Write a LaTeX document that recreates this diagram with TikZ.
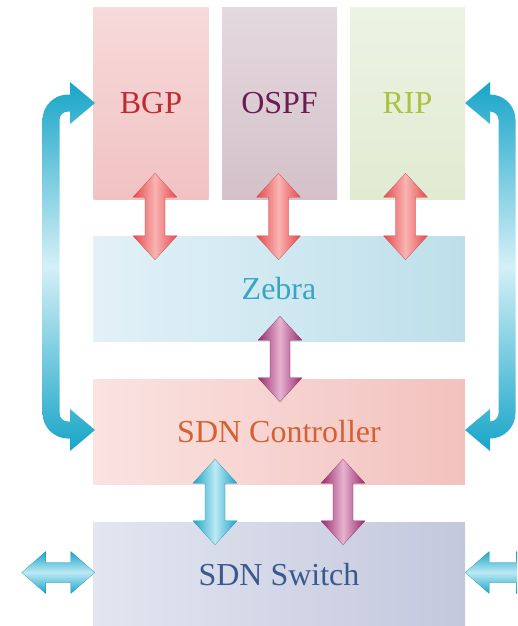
\documentclass[tikz,border=0pt]{standalone}
\usepackage{fontspec}
\newfontfamily\labelfont[Extension=.ttf,UprightFont=*-Regular]{LiberationSerif}
\usetikzlibrary{calc}

\definecolor{bgpfillA}{HTML}{F7DADA}
\definecolor{bgpfillB}{HTML}{F1C2C3}
\definecolor{ospffillA}{HTML}{E4D9DE}
\definecolor{ospffillB}{HTML}{D4C1C9}
\definecolor{ripfillA}{HTML}{EDF3E4}
\definecolor{ripfillB}{HTML}{E0EBD2}
\definecolor{zebfillA}{HTML}{E2F1F7}
\definecolor{zebfillB}{HTML}{BEDFEA}
\definecolor{ctlfillA}{HTML}{FAE3E1}
\definecolor{ctlfillB}{HTML}{F2C2BE}
\definecolor{swfillA}{HTML}{E3E5F0}
\definecolor{swfillB}{HTML}{C3C8DD}
\definecolor{bgptext}{HTML}{BF2A33}
\definecolor{ospftext}{HTML}{6A1C55}
\definecolor{riptext}{HTML}{AAC23C}
\definecolor{zebtext}{HTML}{36A6C4}
\definecolor{ctltext}{HTML}{D6602F}
\definecolor{swtext}{HTML}{3A5A8E}
\definecolor{arrred}{HTML}{E8484C}
\definecolor{arrredL}{HTML}{F8B4B2}
\definecolor{arrplum}{HTML}{9A2A6E}
\definecolor{arrplumL}{HTML}{E6B3CF}
\definecolor{arrcyan}{HTML}{18A5C8}
\definecolor{arrcyanL}{HTML}{BDE9F4}
\definecolor{bracketL}{HTML}{D4F0F7}

% vertical block arrow between a top tip and a bottom tip
\newcommand\blockarrowV[3]{%
  \path[#1] (#2) -- ($(#2)+(22,24)$) -- ($(#2)+(10,24)$) -- ($(#3)+(10,-24)$)
    -- ($(#3)+(22,-24)$) -- (#3) -- ($(#3)+(-22,-24)$) -- ($(#3)+(-10,-24)$)
    -- ($(#2)+(-10,24)$) -- ($(#2)+(-22,24)$) -- cycle;}
% horizontal block arrow between a left tip and a right tip
\newcommand\blockarrowH[3]{%
  \path[#1] (#2) -- ($(#2)+(24,-21)$) -- ($(#2)+(24,-10)$) -- ($(#3)+(-24,-10)$)
    -- ($(#3)+(-24,-21)$) -- (#3) -- ($(#3)+(-24,21)$) -- ($(#3)+(-24,10)$)
    -- ($(#2)+(24,10)$) -- ($(#2)+(24,21)$) -- cycle;}

\begin{document}
\begin{tikzpicture}[x=1pt,y=-1pt,
  layer/.style={rectangle,inner sep=0pt,font=\labelfont\fontsize{32}{32}\selectfont},
  protobox/.style={layer,minimum width=115,minimum height=191,shading angle=20},
  widebox/.style={layer,minimum width=372,minimum height=105},
  redarr/.style={left color=arrred,right color=arrred,middle color=arrredL,draw=arrred!85!black,line width=0.2pt},
  plumarr/.style={left color=arrplum,right color=arrplum,middle color=arrplumL,draw=arrplum!85!black,line width=0.2pt},
  cyanarr/.style={left color=arrcyan,right color=arrcyan,middle color=arrcyanL,draw=arrcyan!85!black,line width=0.2pt},
  cyanarrH/.style={top color=arrcyan,bottom color=arrcyan,middle color=arrcyanL,draw=arrcyan!85!black,line width=0.2pt},
  bracket/.style={top color=arrcyan,bottom color=arrcyan,middle color=bracketL}]

\useasboundingbox (0,0) rectangle (517,626);
\clip (0,0) rectangle (517,626);

% protocol daemons
\node[protobox,top color=bgpfillA,bottom color=bgpfillB,text=bgptext]   (bgp)  at (151,103.5) {BGP};
\node[protobox,top color=ospffillA,bottom color=ospffillB,text=ospftext] (ospf) at (279.5,103.5) {OSPF};
\node[protobox,top color=ripfillA,bottom color=ripfillB,text=riptext]   (rip)  at (407.5,103.5) {RIP};

% layered blocks
\node[widebox,left color=zebfillA,right color=zebfillB,text=zebtext] (zebra) at (279,288.5) {Zebra};
\node[widebox,left color=ctlfillA,right color=ctlfillB,text=ctltext] (ctl)   at (279,431.5) {SDN Controller};
\node[widebox,left color=swfillA,right color=swfillB,text=swtext]    (sw)    at (279,574.5) {SDN Switch};

% tips of the block arrows
\coordinate (bgpT)  at ($(bgp.south)+(4,-26)$);
\coordinate (bgpB)  at ($(zebra.north -| bgp.south)+(4,24)$);
\coordinate (ospfT) at ($(ospf.south)+(-1,-26)$);
\coordinate (ospfB) at ($(zebra.north -| ospf.south)+(-1,24)$);
\coordinate (ripT)  at ($(rip.south)+(-2,-26)$);
\coordinate (ripB)  at ($(zebra.north -| rip.south)+(-2,24)$);
\coordinate (zebT)  at ($(zebra.south)+(1,-25)$);
\coordinate (zebB)  at ($(ctl.north)+(1,23)$);
\coordinate (ctlT1) at ($(ctl.south)+(-64,-25)$);
\coordinate (ctlB1) at ($(sw.north)+(-64,23)$);
\coordinate (ctlT2) at ($(ctl.south)+(64,-25)$);
\coordinate (ctlB2) at ($(sw.north)+(64,23)$);
\coordinate (swL1)  at ($(sw.west)+(-71,-2)$);
\coordinate (swL2)  at ($(sw.west)+(2,-2)$);
\coordinate (swR1)  at ($(sw.east)+(0,-2)$);
\coordinate (swR2)  at ($(sw.east)+(75,-2)$);

% daemons <-> zebra
\blockarrowV{redarr}{bgpT}{bgpB}
\blockarrowV{redarr}{ospfT}{ospfB}
\blockarrowV{redarr}{ripT}{ripB}
% zebra <-> controller
\blockarrowV{plumarr}{zebT}{zebB}
% controller <-> switch
\blockarrowV{cyanarr}{ctlT1}{ctlB1}
\blockarrowV{plumarr}{ctlT2}{ctlB2}
% switch <-> outside
\blockarrowH{cyanarrH}{swL1}{swL2}
\blockarrowH{cyanarrH}{swR1}{swR2}

% left bracket: BGP <-> controller
\path[bracket]
  (59.5,413) -- (59.5,120) arc[start angle=180,end angle=270,radius=8.5]
  -- (70,111.5) -- (70,124) -- (95,103) -- (70,82) -- (70,94.5) -- (68,94.5)
  arc[start angle=270,end angle=180,radius=25.5]
  -- (42.5,413) arc[start angle=180,end angle=90,radius=25.5]
  -- (70,438.5) -- (70,451) -- (95,430) -- (70,409) -- (70,421.5) -- (68,421.5)
  arc[start angle=90,end angle=180,radius=8.5] -- cycle;

% right bracket: RIP <-> controller
\path[bracket]
  (498.5,413) -- (498.5,120) arc[start angle=0,end angle=-90,radius=8.5]
  -- (490,124) -- (465,103) -- (490,82) -- (490,94.5)
  arc[start angle=-90,end angle=0,radius=25.5]
  -- (515.5,413) arc[start angle=0,end angle=90,radius=25.5]
  -- (490,451) -- (465,430) -- (490,409) -- (490,421.5)
  arc[start angle=90,end angle=0,radius=8.5] -- cycle;
\end{tikzpicture}
\end{document}
